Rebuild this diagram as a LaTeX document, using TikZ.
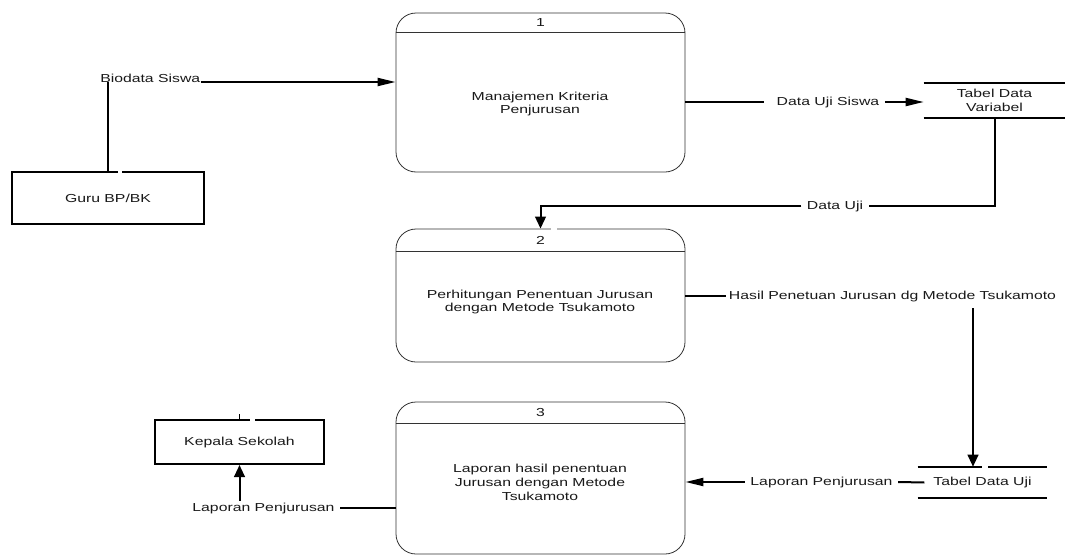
\documentclass[tikz,border=0pt]{standalone}
\usepackage{fontspec}
\setmainfont{Liberation Sans}[FakeStretch=1.36]
\usetikzlibrary{arrows.meta}
\begin{document}
\begin{tikzpicture}[x=0.75pt,y=-0.75pt,
  font=\fontsize{8.7}{10.4}\selectfont,
  proc/.style={draw=black!80, line width=0.6pt, rounded corners=15pt, minimum width=216.75pt, inner sep=0pt},
  hline/.style={draw=black!80, line width=0.6pt},
  ent/.style={draw=black, line width=1.5pt, inner sep=0pt, text=black!90},
  lbl/.style={inner xsep=4pt, inner ysep=1pt, text=black!90},
  txt/.style={align=center, text=black!90, inner sep=0pt},
  store/.style={inner sep=0pt, align=center, text=black!90},
  flow/.style={line width=1.5pt},
  harr/.style={flow, -{Triangle[length=13.5pt,width=6pt]}},
  varr/.style={flow, -{Triangle[length=9pt,width=8pt]}}]
\useasboundingbox (0,0) rectangle (1065,557);
\fill[white] (0,0) rectangle (1065,557);

% processes
\node[proc, minimum height=119.25pt] (p1) at (540.5,92.5) {};
\draw[hline] ([yshift=-15pt]p1.north west) -- ([yshift=-15pt]p1.north east);
\node[txt] (n1) at ([yshift=-7.5pt]p1.north) {1};
\node[txt] (t1) at (540,104) {Manajemen Kriteria\\Penjurusan};

\node[proc, minimum height=99.75pt] (p2) at (540.5,295.5) {};
\draw[hline] ([yshift=-17.25pt]p2.north west) -- ([yshift=-17.25pt]p2.north east);
\node[txt] (n2) at ([yshift=-9pt]p2.north) {2};
\node[txt] (t2) at (540,302) {Perhitungan Penentuan Jurusan\\dengan Metode Tsukamoto};

\node[proc, minimum height=114pt] (p3) at (540.5,478) {};
\draw[hline] ([yshift=-16.5pt]p3.north west) -- ([yshift=-16.5pt]p3.north east);
\node[txt] (n3) at ([yshift=-8.25pt]p3.north) {3};
\node[txt] (t3) at (540,482) {Laporan hasil penentuan\\Jurusan dengan Metode\\Tsukamoto};

% external entities
\node[ent, minimum width=144pt, minimum height=39pt] (guru) at (108,198) {Guru BP/BK};
\node[ent, minimum width=126.75pt, minimum height=33pt] (kep) at (239.5,442) {Kepala Sekolah};

% data stores
\node[store, minimum width=105.75pt, minimum height=26.25pt] (tdv) at (994.5,100.5) {Tabel Data\\Variabel};
\draw[flow] (tdv.north west) -- (tdv.north east);
\draw[flow] (tdv.south west) -- (tdv.south east);
\node[store, minimum width=96.75pt, minimum height=23.25pt] (tdu) at (982.5,482.5) {Tabel Data Uji};
\draw[flow] (tdu.north west) -- (tdu.north east);
\draw[flow] (tdu.south west) -- (tdu.south east);

% flow labels
\node[lbl, anchor=base west, inner sep=0pt] (bio) at (100,82) {Biodata Siswa};
\node[lbl] (dus) at (828,102) {Data Uji Siswa};
\node[lbl] (du) at (835,206) {Data Uji};
\node[lbl, inner xsep=2pt] (hasil) at (892.5,296) {Hasil Penetuan Jurusan dg Metode Tsukamoto};
\node[lbl] (lp1) at (821.5,482) {Laporan Penjurusan};
\node[lbl] (lp2) at (263.5,508) {Laporan Penjurusan};

% flows
\draw[flow] (guru.north) -- (guru.north |- bio.base);
\draw[harr] (bio.base east) -- (p1.west |- bio.base);

\draw[flow] (p1.east |- dus.west) -- ([xshift=-5pt]dus.west);
\draw[harr] (dus.east) -- (tdv.west |- dus.east);

\draw[flow] (tdv.south) |- (du.east);
\draw[varr] (du.west) -| (p2.north);

\draw[flow] (p2.east |- hasil.west) -- (hasil.west);
\coordinate (hv) at (973,308);
\draw[varr] (hv) -- (hv |- tdu.north);

\draw[flow] ([xshift=5pt]tdu.west) -- (lp1.east);
\draw[harr] (lp1.west) -- (p3.east |- lp1.west);

\draw[flow] (p3.west |- lp2.east) -- (lp2.east);
\draw[varr] (lp2.north -| kep.south) -- (kep.south);

% small drawing remnants
\draw[line width=1pt] (kep.north) -- ++(0,-5);
\fill[white] (118,170) rectangle (122,175);
\fill[white] (250,418) rectangle (255,423);
\fill[white] (551,227) rectangle (557,231);
\fill[white] (982,465) rectangle (988,470);
\end{tikzpicture}
\end{document}
